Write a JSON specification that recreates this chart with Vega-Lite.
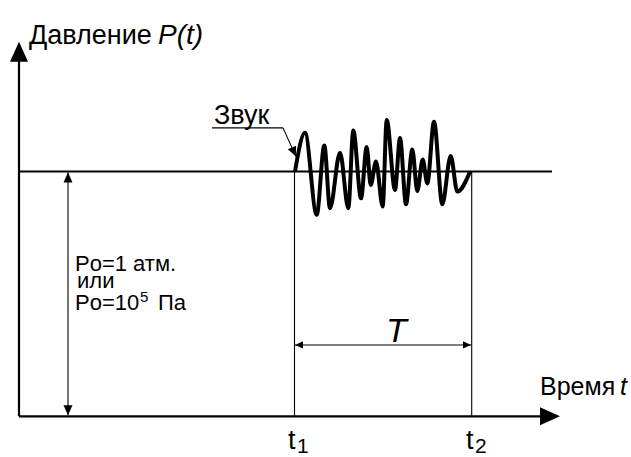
{
  "$schema": "https://vega.github.io/schema/vega-lite/v6.json",
  "width": 631,
  "height": 457,
  "padding": 0,
  "autosize": {"type": "fit", "contains": "padding"},
  "background": "white",
  "config": {"view": {"stroke": null}, "text": {"font": "Liberation Sans"}},
  "resolve": {"scale": {"size": "independent", "strokeWidth": "independent"}},
  "datasets": {
    "rules": [
      {"x": 0, "y": 0, "x2": 0, "y2": 362, "w": "thick"},
      {"x": 0, "y": 0, "x2": 525, "y2": 0, "w": "thick"},
      {"x": 0, "y": 247, "x2": 533, "y2": 247, "w": "thick"},
      {"x": 49, "y": 1, "x2": 49, "y2": 246, "w": "thin"},
      {"x": 275.5, "y": 0, "x2": 275.5, "y2": 247, "w": "thin"},
      {"x": 452.7, "y": 0, "x2": 452.7, "y2": 247, "w": "thin"},
      {"x": 276, "y": 72, "x2": 452, "y2": 72, "w": "thin"},
      {"x": 193, "y": 291, "x2": 264, "y2": 291, "w": "thin"},
      {"x": 264, "y": 291, "x2": 277, "y2": 262, "w": "thin"}
    ],
    "heads": [
      {"x": 0, "y": 378, "angle": 0, "kind": "axis"},
      {"x": 541, "y": 0, "angle": 90, "kind": "axis"},
      {"x": 49, "y": 246, "angle": 0, "kind": "dim"},
      {"x": 49, "y": 1, "angle": 180, "kind": "dim"},
      {"x": 276, "y": 72, "angle": 270, "kind": "small"},
      {"x": 452, "y": 72, "angle": 90, "kind": "small"},
      {"x": 277, "y": 262, "angle": 156, "kind": "dim"}
    ],
    "wave": [
      {"x": 276, "y": 247},
      {"x": 286, "y": 286},
      {"x": 297.7, "y": 203.3},
      {"x": 305.3, "y": 273.3},
      {"x": 311, "y": 210},
      {"x": 321, "y": 266},
      {"x": 329.3, "y": 210},
      {"x": 334.3, "y": 288.3},
      {"x": 342, "y": 220},
      {"x": 347.7, "y": 271.7},
      {"x": 351.7, "y": 233.3},
      {"x": 357, "y": 257},
      {"x": 363.7, "y": 211.7},
      {"x": 367.7, "y": 299},
      {"x": 376, "y": 228.3},
      {"x": 381, "y": 280.7},
      {"x": 387, "y": 214},
      {"x": 393.3, "y": 269.3},
      {"x": 398.3, "y": 227.3},
      {"x": 403.7, "y": 259},
      {"x": 408.3, "y": 235},
      {"x": 415, "y": 297.3},
      {"x": 423.3, "y": 214},
      {"x": 431.7, "y": 262.7},
      {"x": 438.3, "y": 226.7},
      {"x": 451, "y": 246.7}
    ],
    "texts": [
      {"x": 10, "y": 376, "label": "Давление", "kind": "title", "role": "word"},
      {"x": 139, "y": 376, "label": "P(t)", "kind": "title", "role": "var"},
      {"x": 195, "y": 295, "label": "Звук", "kind": "label", "role": "word"},
      {"x": 521, "y": 22, "label": "Время", "kind": "axislabel", "role": "word"},
      {"x": 601, "y": 22, "label": "t", "kind": "axislabel", "role": "var"},
      {"x": 56, "y": 147, "label": "Pо=1 атм.", "kind": "note", "role": "word"},
      {"x": 58, "y": 129, "label": "или", "kind": "note", "role": "word"},
      {"x": 56, "y": 107, "label": "Pо=10", "kind": "note", "role": "word"},
      {"x": 121, "y": 115, "label": "5", "kind": "sup", "role": "word"},
      {"x": 139, "y": 107, "label": "Па", "kind": "note", "role": "word"},
      {"x": 269, "y": -33, "label": "t", "kind": "tick", "role": "word"},
      {"x": 278, "y": -37, "label": "1", "kind": "sub", "role": "word"},
      {"x": 447, "y": -33, "label": "t", "kind": "tick", "role": "word"},
      {"x": 456, "y": -37, "label": "2", "kind": "sub", "role": "word"},
      {"x": 367, "y": 75, "label": "T", "kind": "big", "role": "var"}
    ]
  },
  "layer": [
    {
      "data": {"name": "rules"},
      "mark": {"type": "rule", "color": "black"},
      "encoding": {
        "x": {"field": "x", "type": "quantitative", "scale": {"domain": [-19, 612], "nice": false, "zero": false}, "axis": null},
        "y": {"field": "y", "type": "quantitative", "scale": {"domain": [-37, 420], "nice": false, "zero": false}, "axis": null},
        "x2": {"field": "x2"},
        "y2": {"field": "y2"},
        "strokeWidth": {"field": "w", "type": "nominal", "scale": {"type": "ordinal", "domain": ["thick", "thin"], "range": [2.2, 1.1]}, "legend": null}
      }
    },
    {
      "data": {"name": "wave"},
      "mark": {"type": "line", "color": "black", "strokeWidth": 4, "interpolate": "monotone", "strokeJoin": "round"},
      "encoding": {
        "x": {"field": "x", "type": "quantitative", "axis": null},
        "y": {"field": "y", "type": "quantitative", "axis": null}
      }
    },
    {
      "data": {"name": "heads"},
      "mark": {"type": "point", "filled": true, "color": "black", "opacity": 1, "strokeWidth": 0, "shape": "M0,0L-0.45,1L0.45,1Z"},
      "encoding": {
        "x": {"field": "x", "type": "quantitative", "axis": null},
        "y": {"field": "y", "type": "quantitative", "axis": null},
        "angle": {"field": "angle", "type": "quantitative", "scale": null},
        "size": {"field": "kind", "type": "nominal", "scale": {"type": "ordinal", "domain": ["axis", "dim", "small"], "range": [1600, 400, 256]}, "legend": null}
      }
    },
    {
      "data": {"name": "texts"},
      "transform": [{"filter": "datum.role === 'word'"}],
      "mark": {"type": "text", "align": "left", "baseline": "alphabetic", "color": "black", "font": "Liberation Sans"},
      "encoding": {
        "x": {"field": "x", "type": "quantitative", "axis": null},
        "y": {"field": "y", "type": "quantitative", "axis": null},
        "text": {"field": "label"},
        "size": {"field": "kind", "type": "nominal", "scale": {"type": "ordinal", "domain": ["title", "label", "axislabel", "note", "tick", "sub", "sup", "big"], "range": [27, 27, 25, 22, 27, 21, 15, 34]}, "legend": null}
      }
    },
    {
      "data": {"name": "texts"},
      "transform": [{"filter": "datum.role === 'var'"}],
      "mark": {"type": "text", "align": "left", "baseline": "alphabetic", "color": "black", "font": "Liberation Sans", "fontStyle": "italic"},
      "encoding": {
        "x": {"field": "x", "type": "quantitative", "axis": null},
        "y": {"field": "y", "type": "quantitative", "axis": null},
        "text": {"field": "label"},
        "size": {"field": "kind", "type": "nominal", "scale": {"type": "ordinal", "domain": ["title", "label", "axislabel", "note", "tick", "sub", "sup", "big"], "range": [28, 27, 25, 22, 27, 21, 15, 34]}, "legend": null}
      }
    }
  ]
}
